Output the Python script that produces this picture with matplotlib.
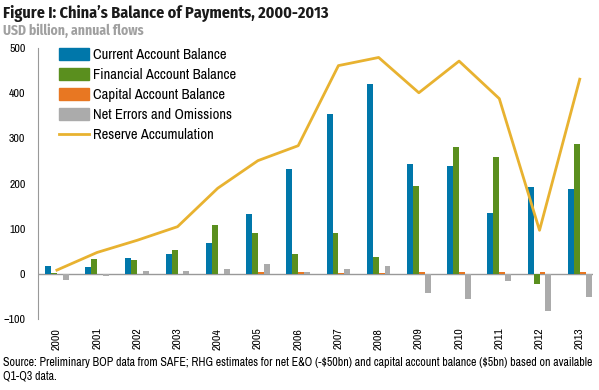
import numpy as np
import matplotlib
matplotlib.use('Agg')
import matplotlib.pyplot as plt
from matplotlib import font_manager
from matplotlib.lines import Line2D
from matplotlib.patches import Patch

years = [str(y) for y in range(2000, 2014)]
current_account = [19, 16, 35, 44, 69, 132, 232, 353, 420, 243, 238, 136, 193, 188]
financial_account = [2, 34, 32, 53, 109, 91, 45, 91, 37, 194, 282, 260, -22, 287]
capital_account = [0, 0, 0, 0, 0, 4, 4, 3, 3, 4, 5, 5, 4, 5]
errors_omissions = [-13, -5, 7, 7, 12, 22, 4, 12, 18, -42, -54, -15, -81, -51]
reserve_accumulation = [9, 48, 75, 105, 190, 251, 284, 461, 479, 401, 471, 388, 97, 431]

# condensed fonts (reference uses a Univers Condensed look)
installed = {f.name for f in font_manager.fontManager.ttflist}
font = 'DejaVu Sans'
for cand in ['Archivo Narrow', 'Roboto Condensed', 'PT Sans Narrow', 'Fira Sans Condensed']:
    if cand in installed:
        font = cand
        break
bold_font = font
for cand in ['Fira Sans Condensed', 'IBM Plex Sans Condensed', 'Asap Condensed']:
    if cand in installed:
        bold_font = cand
        break
plt.rcParams['font.family'] = [font, 'DejaVu Sans']

BLUE = '#0077AA'
GREEN = '#5A8F1E'
ORANGE = '#E87722'
GRAY = '#ABABAB'
GOLD = '#E8B230'

fig = plt.figure(figsize=(5.99, 3.90), dpi=100)
ax = fig.add_axes([0.0634, 0.181, 0.9266, 0.696])

x = np.arange(len(years))
w = 0.147
ax.bar(x - 1.5 * w, current_account, w, color=BLUE, zorder=3)
ax.bar(x - 0.5 * w, financial_account, w, color=GREEN, zorder=3)
ax.bar(x + 0.5 * w, capital_account, w, color=ORANGE, zorder=3)
ax.bar(x + 1.5 * w, errors_omissions, w, color=GRAY, zorder=3)
ax.plot(x, reserve_accumulation, color=GOLD, lw=2.0, zorder=4)

ax.axhline(0, color='#999999', lw=1.0, zorder=2)
ax.set_ylim(-100, 500)
ax.set_xlim(-0.47, 13.33)
ax.set_yticks(range(-100, 501, 100))
ax.set_xticks(x)
ax.set_xticklabels(years, rotation=90, fontsize=8.5)
ax.tick_params(axis='x', length=0, pad=6)
ax.tick_params(axis='y', length=0, pad=9, labelsize=8.5)
for s in ['top', 'right', 'bottom']:
    ax.spines[s].set_visible(False)
ax.spines['left'].set_color('#999999')

handles = [Patch(color=BLUE), Patch(color=GREEN), Patch(color=ORANGE), Patch(color=GRAY),
           Line2D([0], [0], color=GOLD, lw=2.0)]
labels = ['Current Account Balance', 'Financial Account Balance', 'Capital Account Balance',
          'Net Errors and Omissions', 'Reserve Accumulation']
ax.legend(handles, labels, loc='upper left', bbox_to_anchor=(0.037, 1.0), frameon=False,
          fontsize=10.5, handlelength=2.1, handleheight=0.85, handletextpad=0.25,
          labelspacing=0.42, borderaxespad=0, borderpad=0)

fig.text(0.005, 0.953, "Figure I: China\u2019s Balance of Payments, 2000-2013",
         fontsize=11.6, fontweight='bold', family=[bold_font, 'DejaVu Sans'],
         color='#1a1a1a', va='baseline')
fig.text(0.005, 0.91, "USD billion, annual flows", fontsize=9.8, fontweight='bold',
         family=[bold_font, 'DejaVu Sans'], color='#A0A0A0', va='baseline')
fig.text(0.005, 0.062, "Source: Preliminary BOP data from SAFE; RHG estimates for net E&O (-\\$50bn) "
         "and capital account balance (\\$5bn) based on available", fontsize=8.55, va='baseline')
fig.text(0.005, 0.026, "Q1-Q3 data.", fontsize=8.55, va='baseline')

fig.savefig('out.png', dpi=100)
